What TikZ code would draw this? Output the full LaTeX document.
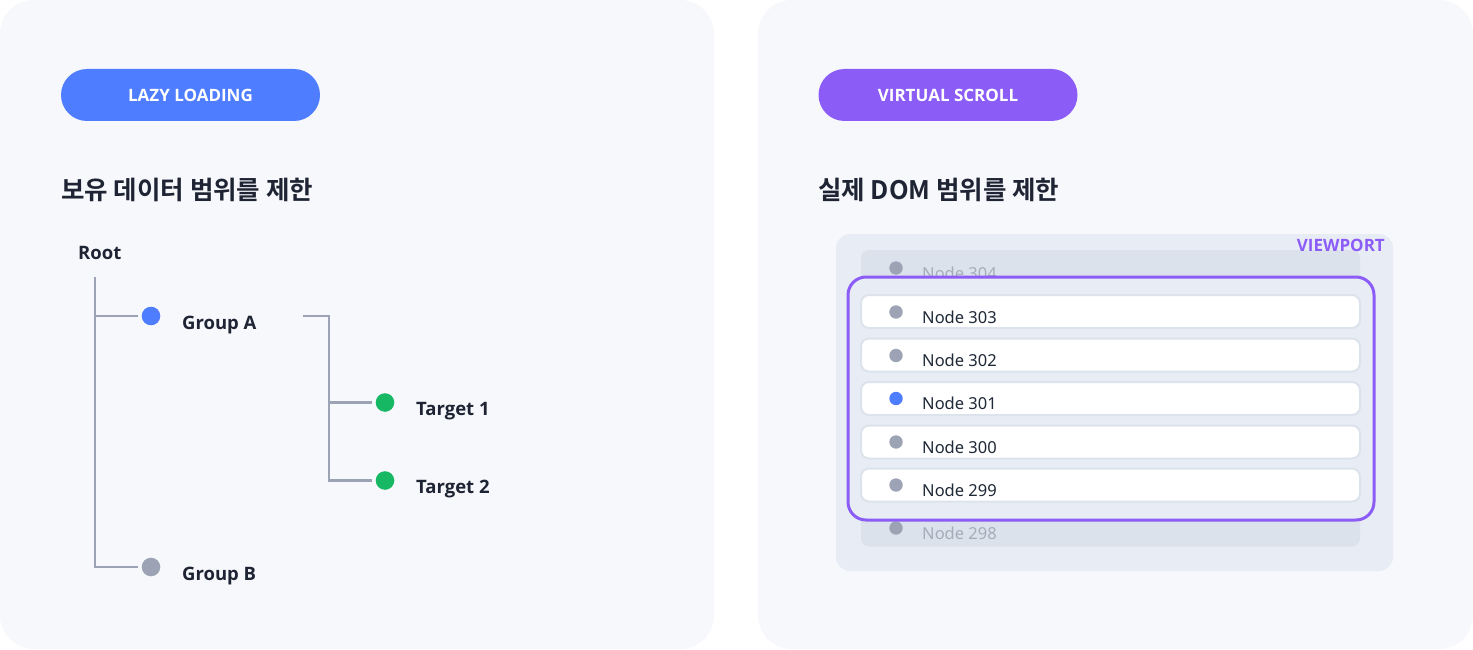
\documentclass[tikz,border=0pt]{standalone}
\usepackage{fontspec}
\setmainfont{Open Sans}
\newfontfamily\rowfont{Noto Sans}
\newfontfamily\kr{Noto Sans CJK KR}[BoldFont={Noto Sans CJK KR Bold}]
\definecolor{panelbg}{HTML}{F7F8FC}
\definecolor{accblue}{HTML}{4F7DFF}
\definecolor{accpurple}{HTML}{8B5CF6}
\definecolor{ink}{HTML}{1E2433}
\definecolor{treeline}{HTML}{9CA3B4}
\definecolor{accgreen}{HTML}{16B864}
\definecolor{vpbg}{HTML}{E8EDF5}
\definecolor{fadedrow}{HTML}{DCE2EB}
\definecolor{rowborder}{HTML}{DDE3EC}
\definecolor{fadedtext}{HTML}{A5ADBB}
\definecolor{rowtext}{HTML}{1F2937}
\tikzset{
  panel/.style={fill=panelbg, rounded corners=34pt},
  badge/.style={rounded corners=26pt, minimum width=259pt, minimum height=52pt, inner sep=0pt,
    text=white, font=\fontsize{17}{20}\selectfont\bfseries},
  heading/.style={anchor=west, inner sep=0pt, text=ink, font=\kr\fontsize{25.5}{30}\selectfont\bfseries},
  treelbl/.style={anchor=base west, inner sep=0pt, text=ink, font=\fontsize{18.5}{22}\selectfont\bfseries},
  tdot/.style={circle, minimum size=18.6pt, inner sep=0pt},
  tree/.style={draw=treeline, line width=2.8pt},
  vrow/.style={rounded corners=8pt, minimum width=499pt, minimum height=33pt, inner sep=0pt,
    fill=white, draw=rowborder, line width=2pt},
  frow/.style={rounded corners=8pt, minimum width=499pt, minimum height=37pt, inner sep=0pt, fill=fadedrow},
  rdot/.style={circle, minimum size=13.4pt, inner sep=0pt},
  rlbl/.style={anchor=base west, inner sep=0pt, text=rowtext, font=\rowfont\fontsize{16.5}{20}\selectfont},
  flbl/.style={anchor=base west, inner sep=0pt, text=fadedtext, font=\rowfont\fontsize{16.5}{20}\selectfont},
}
\begin{document}
\begin{tikzpicture}[x=1pt,y=-1pt]
\useasboundingbox (0,0) rectangle (1473,650);
\fill[white] (0,0) rectangle (1473,650);
% panels
\fill[panel] (0,0) rectangle (714,649);
\fill[panel] (758,0) rectangle (1473,649);

% ---------- left: lazy loading ----------
\node[badge, fill=accblue] (b1) at (190.5,95) {LAZY LOADING};
\node[heading] (h1) at (61,190) {보유 데이터 범위를 제한};

\node[treelbl] (root) at (78,259) {Root};
\node[tdot, fill=accblue] (ga) at (151,316) {};
\node[treelbl] (gal) at (182,329) {Group A};
\node[tdot, fill=accgreen] (t1) at (385,402.5) {};
\node[treelbl] (t1l) at (416,415) {Target 1};
\node[tdot, fill=accgreen] (t2) at (385,480.5) {};
\node[treelbl] (t2l) at (416,493) {Target 2};
\node[tdot, fill=treeline] (gb) at (151,567) {};
\node[treelbl] (gbl) at (182,580) {Group B};

\coordinate (trunk) at (95,277);
\coordinate (gaout) at (303,316);
\coordinate (branch) at (329,316);
\draw[tree] (trunk) |- ([xshift=-4pt]gb.west);
\draw[tree] (trunk |- ga.west) -- ([xshift=-4pt]ga.west);
\draw[tree] (gaout) -- (branch) |- ([xshift=-4pt]t2.west);
\draw[tree] (branch |- t1.west) -- ([xshift=-4pt]t1.west);

% ---------- right: virtual scroll ----------
\node[badge, fill=accpurple] (b2) at (948,95) {VIRTUAL SCROLL};
\node[heading] (h2) at (818,190) {실제 DOM 범위를 제한};

\fill[vpbg, rounded corners=14pt] (836,234) rectangle (1393,571);

\node[frow] (r304) at (1110.5,268.5) {};
\node[rdot, fill=treeline] (d304) at (896,268) {};
\node[flbl] (l304) at (922,279) {Node 304};

\node[frow] (r298) at (1110.5,528) {};
\node[rdot, fill=treeline] (d298) at (896,528) {};
\node[flbl] (l298) at (922,539) {Node 298};

\node[draw=accpurple, fill=vpbg, line width=3pt, rounded corners=18pt,
  minimum width=526pt, minimum height=243pt, inner sep=0pt] (vp) at (1111,398.5) {};

\node[vrow] (r303) at (1110.5,311.5) {};
\node[rdot, fill=treeline] (d303) at (896,312) {};
\node[rlbl] (l303) at (922,323) {Node 303};

\node[vrow] (r302) at (1110.5,355) {};
\node[rdot, fill=treeline] (d302) at (896,355.5) {};
\node[rlbl] (l302) at (922,366.5) {Node 302};

\node[vrow] (r301) at (1110.5,398.5) {};
\node[rdot, fill=accblue] (d301) at (896,398.5) {};
\node[rlbl] (l301) at (922,409.5) {Node 301};

\node[vrow] (r300) at (1110.5,442) {};
\node[rdot, fill=treeline] (d300) at (896,442) {};
\node[rlbl] (l300) at (922,453) {Node 300};

\node[vrow] (r299) at (1110.5,485) {};
\node[rdot, fill=treeline] (d299) at (896,485) {};
\node[rlbl] (l299) at (922,496) {Node 299};

\node[anchor=base east, inner sep=0pt, text=accpurple, font=\fontsize{17}{20}\selectfont\bfseries] (vpl) at (1385,251) {VIEWPORT};
\end{tikzpicture}
\end{document}
